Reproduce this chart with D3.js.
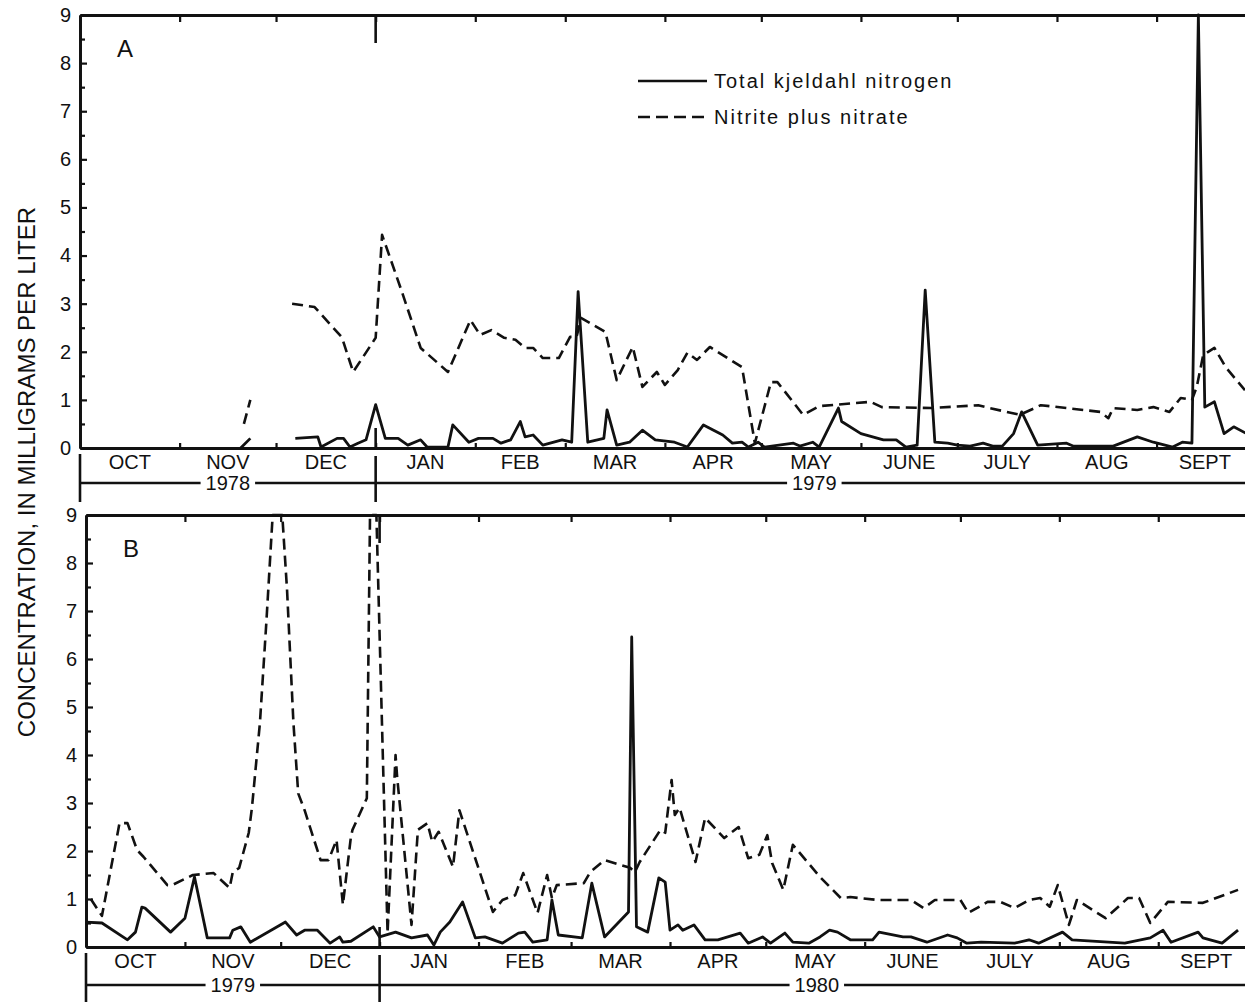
<!DOCTYPE html>
<html>
<head>
<meta charset="utf-8">
<script src="https://cdn.jsdelivr.net/npm/d3@7"></script>
<style>
	body { margin: 0; background: #fff; }
	svg { display: block; font-family: "Liberation Sans", Arial, Helvetica, sans-serif; }
</style>
</head>
<body>
<div id="chart"></div>
<script>

// ----------------------------------
// DATA
// ----------------------------------
// Each pair is [day of water year (Oct 1 = 0), concentration in mg/L].
// A null concentration means no samples for that stretch (gap in the line).

const monthLabels = ['OCT', 'NOV', 'DEC', 'JAN', 'FEB', 'MAR', 'APR', 'MAY', 'JUNE', 'JULY', 'AUG', 'SEPT'];
const yTicks = [0, 1, 2, 3, 4, 5, 6, 7, 8, 9];
const yMinorTicks = [0.5, 1.5, 2.5, 3.5, 4.5, 5.5, 6.5, 7.5, 8.5];
const yearsA = ['1978', '1979'];
const yearsB = ['1979', '1980'];

// Panel A, water year 1979
const kjeldahlA = [
	[50, 0.0], [53, 0.2], [60, null],
	[67, 0.2], [74, 0.23], [75, 0.02], [80, 0.2], [82, 0.2], [84, 0.02], [86.5, 0.1], [89, 0.17],
	[92, 0.9], [95, 0.2], [99, 0.2], [102, 0.06], [106, 0.17], [108, 0.02], [114.5, 0.02], [116, 0.48],
	[121, 0.12], [124, 0.2], [128.5, 0.2], [131, 0.1], [134, 0.17], [137, 0.55], [138.5, 0.23], [141, 0.27],
	[144, 0.06], [150, 0.17], [153, 0.12], [155, 3.25], [158, 0.12], [163, 0.2], [164, 0.79], [167, 0.06],
	[171, 0.12], [175, 0.37], [179, 0.17], [185, 0.12], [189, 0.02], [194, 0.48], [200, 0.27], [203, 0.1],
	[206, 0.12], [208, 0.02], [211, 0.12], [213, 0.02], [222, 0.1], [224, 0.04], [228, 0.12], [230, 0.02],
	[236, 0.83], [237, 0.55], [243, 0.3], [250, 0.17], [254, 0.17], [257, 0.02], [260.5, 0.06], [263, 3.28],
	[266, 0.12], [270, 0.1], [273, 0.06], [277, 0.04], [281, 0.1], [284, 0.04], [287, 0.04], [290.5, 0.3],
	[293, 0.75], [298, 0.06], [307, 0.1], [309, 0.04], [321.5, 0.04], [329, 0.23], [334, 0.12], [340, 0.02],
	[343, 0.12], [346, 0.1], [348, 9.0], [350, 0.85], [353, 0.96], [356, 0.3], [359, 0.44], [363, 0.3]
];

const nitrateA = [
	[51, 0.5], [53, 1.0], [60, null],
	[66, 3.0], [73, 2.93], [81.5, 2.3], [85, 1.58], [92, 2.29], [94, 4.43], [100, 3.28], [106, 2.08],
	[114.5, 1.58], [121.5, 2.66], [124.5, 2.35], [128, 2.45], [132, 2.29], [135.5, 2.25], [138.5, 2.08],
	[141, 2.08], [144, 1.87], [149, 1.87], [152.5, 2.31], [154.5, 2.31], [156, 2.7], [163.5, 2.41],
	[167, 1.41], [172, 2.1], [175, 1.27], [179.5, 1.58], [182, 1.31], [186, 1.62], [189, 1.98], [192, 1.83],
	[196, 2.1], [206, 1.68], [210, 0.1], [215, 1.37], [217, 1.37], [225, 0.69], [230, 0.87], [246, 0.96],
	[249.5, 0.85], [265, 0.83], [279.5, 0.89], [283, 0.83], [292.5, 0.69], [299, 0.89], [317.5, 0.75],
	[320, 0.62], [321.5, 0.83], [329, 0.79], [334, 0.85], [339, 0.75], [342.5, 1.04], [346, 1.0],
	[347.5, 1.27], [349.5, 1.93], [353, 2.08], [356.5, 1.68], [362.5, 1.2]
];

// Panel B, water year 1980
const kjeldahlB = [
	[0, 0.52], [5, 0.5], [13, 0.15], [15.5, 0.31], [17.5, 0.83], [18.5, 0.81], [26.5, 0.31], [31, 0.6],
	[34, 1.46], [38, 0.19], [45, 0.19], [46, 0.35], [48.5, 0.42], [51.5, 0.1], [62.5, 0.52], [66, 0.25],
	[68.5, 0.35], [72.5, 0.35], [76.5, 0.08], [79.5, 0.21], [80.5, 0.1], [83, 0.12], [90, 0.42], [92, 0.21],
	[97, 0.31], [102, 0.19], [107, 0.25], [109, 0.04], [111, 0.31], [114, 0.52], [118, 0.94], [122, 0.19],
	[125, 0.21], [130.5, 0.08], [135.5, 0.29], [137.5, 0.31], [140, 0.1], [144.5, 0.15], [146, 0.98],
	[148, 0.25], [155.5, 0.19], [158.5, 1.33], [162.5, 0.21], [170, 0.73], [171, 6.46], [172.5, 0.42],
	[176, 0.31], [179.5, 1.44], [181.5, 1.35], [183, 0.35], [185.5, 0.46], [187, 0.35], [190.5, 0.46],
	[194, 0.15], [198, 0.15], [205, 0.29], [207.5, 0.08], [212, 0.21], [214.5, 0.08], [219, 0.29],
	[221.5, 0.1], [226.5, 0.08], [230, 0.21], [233, 0.35], [235.5, 0.31], [239.5, 0.15], [246.5, 0.15],
	[248.5, 0.31], [256, 0.21], [258.5, 0.21], [263.5, 0.1], [270, 0.25], [273, 0.19], [276, 0.08],
	[280.5, 0.1], [291, 0.08], [295.5, 0.15], [298.5, 0.08], [306, 0.31], [309, 0.15], [325.5, 0.08],
	[333.5, 0.19], [337.5, 0.35], [340, 0.1], [348.5, 0.31], [350, 0.19], [356, 0.08], [361, 0.35]
];

const nitrateB = [
	[1.5, 1.0], [5, 0.65], [10.5, 2.58], [13, 2.58], [16, 2.02], [18, 1.88], [25.5, 1.29], [27, 1.29],
	[33.5, 1.5], [40, 1.54], [45, 1.23], [46, 1.56], [48, 1.65], [51, 2.38], [52, 2.9], [54.5, 4.67],
	[56.5, 6.75], [58.5, 9.0], [61.5, 9.0], [63, 7.44], [65, 4.67], [66.5, 3.2], [68.5, 2.85], [73.5, 1.81],
	[76, 1.81], [78.5, 2.23], [80.5, 0.88], [83, 2.29], [83.5, 2.44], [88, 3.1], [89, 9.0], [91, 9.0],
	[94.5, 0.29], [97, 4.0], [97.5, 3.54], [102, 0.46], [104, 2.44], [107, 2.58], [108.5, 2.19],
	[110.5, 2.4], [115, 1.67], [117, 2.85], [127.5, 0.73], [130.5, 0.98], [134.5, 1.08], [137, 1.54],
	[141.5, 0.71], [144.5, 1.5], [146, 1.02], [147.5, 1.29], [156, 1.33], [158, 1.56], [162.5, 1.81],
	[170.5, 1.65], [172, 1.56], [173.5, 1.77], [180, 2.44], [181.5, 2.38], [183.5, 3.48], [184.5, 2.75],
	[186, 2.9], [191, 1.77], [194, 2.69], [200, 2.27], [204.5, 2.5], [207.5, 1.85], [211, 1.92],
	[213.5, 2.33], [215, 1.75], [218.5, 1.19], [221.5, 2.13], [230, 1.46], [236.5, 1.02], [239.5, 1.04],
	[248, 0.98], [258.5, 0.98], [262.5, 0.81], [266, 0.98], [274, 0.98], [276.5, 0.71], [282.5, 0.94],
	[286.5, 0.94], [291, 0.81], [295.5, 0.98], [299, 1.02], [302, 0.84], [304.5, 1.29], [308, 0.46],
	[310.5, 0.98], [319.5, 0.6], [326.5, 1.02], [330, 1.02], [333.5, 0.5], [339, 0.94], [350, 0.92],
	[361, 1.19]
];

// ----------------------------------
// SVG
// ----------------------------------

const width = 1245,
	height = 1002,
	ink = '#111',
	dash = '11,6';

const svg = d3.select('#chart')
	.append('svg')
	.attr('width', width)
	.attr('height', height);

function styleAxis(sel, size){
	sel.select('.domain').attr('stroke', ink).attr('stroke-width', 2.8);
	sel.selectAll('.tick line').attr('stroke', ink).attr('stroke-width', 2.2);
	sel.selectAll('.tick text').attr('fill', ink).style('font-size', size + 'px');
}

function drawPanel(p){
	const start = new Date(p.start),
		end = d3.utcYear.offset(start, 1),
		months = d3.utcMonth.range(start, end),
		janFirst = months[3],
		toDate = d => d3.utcHour.offset(start, Math.round(d * 24));

	// ----------------------------------
	// SCALES
	// ----------------------------------

	const xScale = d3.scaleUtc()
		.domain([start, end])
		.range([p.left, p.right]);

	const yScale = d3.scaleLinear()
		.domain([0, 9])
		.range([p.zero, p.top]);

	const g = svg.append('g').attr('class', 'panel');

	// ----------------------------------
	// AXES (ticks point inward)
	// ----------------------------------

	g.append('g')
		.attr('transform', `translate(${p.left},0)`)
		.call(d3.axisLeft(yScale).tickValues(yTicks).tickSize(-7).tickPadding(9).tickSizeOuter(0))
		.call(s => styleAxis(s, 20));

	g.append('g')
		.attr('transform', `translate(${p.left},0)`)
		.call(d3.axisLeft(yScale).tickValues(yMinorTicks).tickSize(-5).tickFormat('').tickSizeOuter(0))
		.call(s => styleAxis(s, 20));

	g.append('g')
		.attr('transform', `translate(${p.right},0)`)
		.call(d3.axisRight(yScale).tickValues(yTicks.concat(yMinorTicks)).tickSize(-6).tickFormat('').tickSizeOuter(0))
		.call(s => styleAxis(s, 20));

	g.append('g')
		.attr('transform', `translate(0,${p.top})`)
		.call(d3.axisTop(xScale).tickValues(months.slice(1)).tickSize(-7).tickFormat('').tickSizeOuter(0))
		.call(s => styleAxis(s, 20));

	g.append('g')
		.attr('transform', `translate(0,${p.zero})`)
		.call(d3.axisBottom(xScale).tickValues(months.slice(1)).tickSize(-5).tickFormat('').tickSizeOuter(0))
		.call(s => styleAxis(s, 20));

	// Jan 1 marker: long ticks top and bottom, and the divider below the axis
	const jx = xScale(janFirst);
	[[p.top, p.top + 28], [p.zero - 20, p.zero], [p.zero + 8, p.base]].forEach(seg => {
		g.append('line')
			.attr('x1', jx).attr('x2', jx)
			.attr('y1', seg[0]).attr('y2', seg[1])
			.attr('stroke', ink).attr('stroke-width', 2.6);
	});

	g.append('line')
		.attr('x1', p.left).attr('x2', p.left)
		.attr('y1', p.zero + 6).attr('y2', p.base)
		.attr('stroke', ink).attr('stroke-width', 2.6);

	// Month names, centred in each month
	g.selectAll('text.month')
		.data(months)
		.join('text')
		.attr('class', 'month')
		.attr('x', (m, i) => (xScale(m) + xScale(i < 11 ? months[i + 1] : end)) / 2)
		.attr('y', p.zero + 21)
		.attr('text-anchor', 'middle')
		.style('font-size', '20px')
		.attr('fill', ink)
		.text((m, i) => monthLabels[i]);

	// Year bar
	g.append('line')
		.attr('x1', p.left).attr('x2', width)
		.attr('y1', p.yearY).attr('y2', p.yearY)
		.attr('stroke', ink).attr('stroke-width', 2.6);

	[[p.left, jx], [jx, p.right]].forEach((span, i) => {
		const t = g.append('text')
			.attr('x', (span[0] + span[1]) / 2)
			.attr('y', p.yearY + 7)
			.attr('text-anchor', 'middle')
			.style('font-size', '20px')
			.attr('fill', ink)
			.text(p.years[i]);
		const bb = t.node().getBBox();
		g.insert('rect', () => t.node())
			.attr('x', bb.x - 5).attr('y', bb.y)
			.attr('width', bb.width + 10).attr('height', bb.height)
			.attr('fill', '#fff');
	});

	g.append('text')
		.attr('x', p.left + 37)
		.attr('y', p.top + 42)
		.style('font-size', '24px')
		.attr('fill', ink)
		.text(p.label);

	// ----------------------------------
	// LINES
	// ----------------------------------

	const line = d3.line()
		.defined(d => d[1] != null)
		.x(d => xScale(toDate(d[0])))
		.y(d => yScale(d[1]));

	g.append('path')
		.datum(p.nitrate)
		.attr('d', line)
		.attr('fill', 'none')
		.attr('stroke', ink)
		.attr('stroke-width', 2.6)
		.attr('stroke-dasharray', dash)
		.attr('stroke-linejoin', 'round');

	g.append('path')
		.datum(p.kjeldahl)
		.attr('d', line)
		.attr('fill', 'none')
		.attr('stroke', ink)
		.attr('stroke-width', 2.8)
		.attr('stroke-linejoin', 'round');
}

drawPanel({
	start: Date.UTC(1978, 9, 1), left: 80, right: 1253, top: 15, zero: 448, base: 502, yearY: 483,
	label: 'A', years: yearsA, kjeldahl: kjeldahlA, nitrate: nitrateA
});

drawPanel({
	start: Date.UTC(1979, 9, 1), left: 86, right: 1254, top: 515, zero: 947, base: 1002, yearY: 985,
	label: 'B', years: yearsB, kjeldahl: kjeldahlB, nitrate: nitrateB
});

// ----------------------------------
// LEGEND + AXIS TITLE
// ----------------------------------

const legend = svg.append('g').attr('class', 'legend');

[['Total kjeldahl nitrogen', null, 81], ['Nitrite plus nitrate', '12,6', 117]].forEach(item => {
	legend.append('line')
		.attr('x1', 638).attr('x2', 707)
		.attr('y1', item[2]).attr('y2', item[2])
		.attr('stroke', ink).attr('stroke-width', 2.6)
		.attr('stroke-dasharray', item[1]);
	legend.append('text')
		.attr('x', 714)
		.attr('y', item[2] + 7)
		.style('font-size', '20px')
		.style('letter-spacing', '2px')
		.attr('fill', ink)
		.text(item[0]);
});

svg.append('text')
	.attr('transform', 'translate(35,472) rotate(-90)')
	.attr('text-anchor', 'middle')
	.style('font-size', '24px')
	.attr('fill', ink)
	.text('CONCENTRATION, IN MILLIGRAMS PER LITER');

</script>
</body>
</html>
